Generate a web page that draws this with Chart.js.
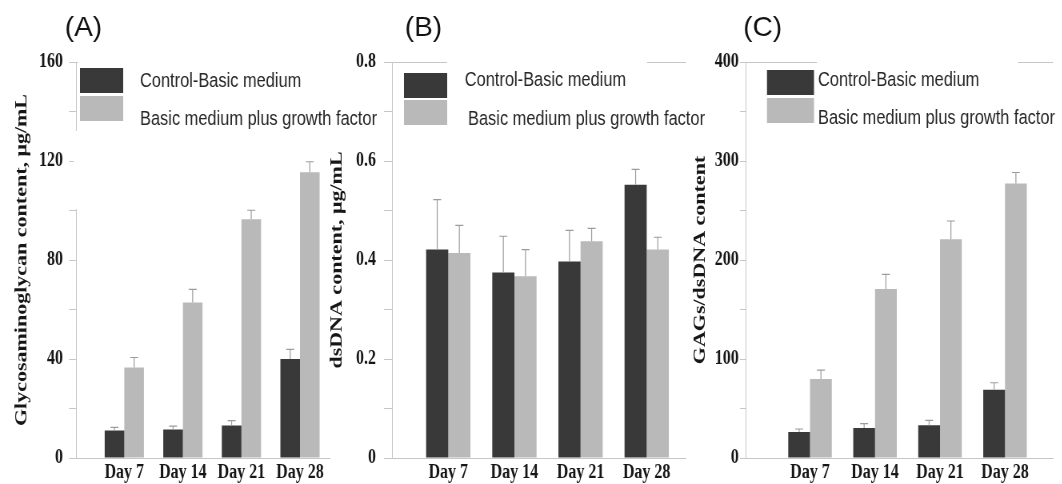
<!DOCTYPE html>
<html>
<head>
<meta charset="utf-8">
<script src="https://cdn.jsdelivr.net/npm/chart.js@4.4.1/dist/chart.umd.min.js"></script>
<style>
html,body{margin:0;padding:0;background:#fff;width:1062px;height:484px;overflow:hidden;position:relative;}
canvas{position:absolute;top:0;transform-origin:0 0;}
</style>
</head>
<body>
<canvas id="cA" width="500" height="484" style="left:0px"></canvas>
<canvas id="cB" width="538" height="484" style="left:320px"></canvas>
<canvas id="cC" width="478" height="484" style="left:680px"></canvas>
<script>
// ---------- data ----------
const days = ['Day 7', 'Day 14', 'Day 21', 'Day 28'];
const seriesNames = ['Control-Basic medium', 'Basic medium plus growth factor'];
const panelLabels = ['(A)', '(B)', '(C)'];
const axisTitles = ['Glycosaminoglycan content, μg/mL', 'dsDNA content, μg/mL', 'GAGs/dsDNA content'];

const gagControl    = [11.1, 11.5, 13.1, 40.0];
const gagControlErr = [1.3, 1.4, 2.0, 3.9];
const gagGrowth     = [36.6, 62.8, 96.5, 115.5];
const gagGrowthErr  = [4.0, 5.3, 3.6, 4.2];

const dnaControl    = [0.421, 0.375, 0.397, 0.552];
const dnaControlErr = [0.101, 0.073, 0.063, 0.031];
const dnaGrowth     = [0.414, 0.367, 0.438, 0.421];
const dnaGrowthErr  = [0.056, 0.054, 0.026, 0.025];

const ratioControl    = [26.2, 30.3, 33.0, 69.0];
const ratioControlErr = [3.1, 4.4, 5.0, 7.0];
const ratioGrowth     = [79.8, 170.6, 221.0, 277.2];
const ratioGrowthErr  = [9.0, 14.8, 18.4, 11.2];

const yTicksA = [0, 40, 80, 120, 160];
const yTicksB = [0, 0.2, 0.4, 0.6, 0.8];
const yTicksC = [0, 100, 200, 300, 400];

// ---------- styling ----------
const K = 0.8; // horizontal squeeze of the original figure
const DARK = '#393939', LIGHT = '#b9b9b9', AXIS = '#c6c6c6', ERR = '#9c9c9c', TXT = '#161616';
const serif = 'Liberation Serif', sans = 'Liberation Sans';

document.querySelectorAll('canvas').forEach(c => c.style.transform = 'scaleX(' + K + ')');

const decor = {
  id: 'decor',
  afterDatasetsDraw(chart) {
    const ctx = chart.ctx, ys = chart.scales.y;
    ctx.save();
    ctx.strokeStyle = ERR; ctx.lineWidth = 1.2;
    chart.data.datasets.forEach((ds, i) => {
      const meta = chart.getDatasetMeta(i);
      meta.data.forEach((bar, j) => {
        const v = ds.data[j].y, e = ds.errors[j];
        const y0 = ys.getPixelForValue(v), y1 = ys.getPixelForValue(v + e);
        ctx.beginPath();
        ctx.moveTo(bar.x, y0); ctx.lineTo(bar.x, y1);
        ctx.moveTo(bar.x - 5, y1); ctx.lineTo(bar.x + 5, y1);
        ctx.stroke();
      });
    });
    ctx.restore();
  },
  afterDraw(chart, args, o) {
    const ctx = chart.ctx, ca = chart.chartArea;
    ctx.save();
    // top frame line
    ctx.strokeStyle = AXIS; ctx.lineWidth = 1;
    ctx.beginPath(); ctx.moveTo(ca.left, ca.top + 0.5); ctx.lineTo(ca.right, ca.top + 0.5); ctx.stroke();
    // white masks
    ctx.fillStyle = '#fff';
    o.masks.forEach(m => ctx.fillRect(m[0], m[1], m[2] - m[0], m[3] - m[1]));
    // legend
    const L = o.legend;
    chart.data.datasets.forEach((ds, i) => {
      ctx.fillStyle = ds.backgroundColor;
      ctx.fillRect(L.boxX, L.boxY[i], L.boxW, L.boxH);
      ctx.fillStyle = '#262626';
      ctx.font = '20.5px "' + sans + '"';
      ctx.textBaseline = 'alphabetic'; ctx.textAlign = 'left';
      ctx.fillText(ds.label, L.textX[i], L.textY[i]);
    });
    // panel label (not squeezed)
    ctx.translate(o.labelX, o.labelY);
    ctx.scale(1 / K, 1);
    ctx.fillStyle = '#111';
    ctx.font = '28px "' + sans + '"';
    ctx.fillText(o.label, 0, 0);
    ctx.restore();
  }
};

function makePanel(id, ctrl, ctrlErr, grow, growErr, yTicks, title, lay) {
  const pts = arr => arr.map((v, i) => ({ x: i + 1, y: v }));
  const step = (yTicks[1] - yTicks[0]) / 2;
  const isMajor = v => yTicks.some(t => Math.abs(t - v) < step * 1e-3);
  return new Chart(document.getElementById(id), {
    type: 'bar',
    data: {
      datasets: [
        { label: seriesNames[0], data: pts(ctrl), errors: ctrlErr, backgroundColor: DARK, borderWidth: 0 },
        { label: seriesNames[1], data: pts(grow), errors: growErr, backgroundColor: LIGHT, borderWidth: 0 }
      ]
    },
    options: {
      responsive: false, animation: false, devicePixelRatio: 1,
      categoryPercentage: 0.67, barPercentage: 1,
      layout: { padding: { left: 0, top: 62, right: lay.padRight, bottom: 0 } },
      plugins: {
        legend: { display: false }, tooltip: { enabled: false },
        decor: lay.decor
      },
      scales: {
        x: {
          type: 'linear', min: lay.xMin, max: lay.xMax, offset: false,
          afterBuildTicks: s => { s.ticks = days.map((d, i) => ({ value: i + 1 })); },
          afterFit: s => { s.height = 26; },
          ticks: {
            callback: v => days[Math.round(v) - 1] || '',
            autoSkip: false, maxRotation: 0, padding: 3,
            font: { family: serif, weight: 'bold', size: 20 }, color: TXT
          },
          grid: { display: true, drawOnChartArea: false, drawTicks: false, offset: false },
          border: { display: true, color: AXIS, width: 1 }
        },
        y: {
          min: yTicks[0], max: yTicks[yTicks.length - 1],
          afterFit: s => { s.width = lay.yWidth; },
          ticks: {
            stepSize: step,
            callback: v => isMajor(v) ? String(parseFloat(v.toFixed(3))) : '',
            padding: lay.tickPad,
            font: { family: serif, weight: 'bold', size: 20 }, color: TXT
          },
          grid: { display: true, drawOnChartArea: false, drawTicks: true, tickLength: lay.tickLen, color: AXIS, tickColor: AXIS },
          border: { display: true, color: AXIS, width: 1 },
          title: {
            display: true, text: title, color: TXT,
            font: { family: serif, weight: 'bold', size: 22 },
            padding: { top: lay.titlePad, bottom: 0 }
          }
        }
      }
    },
    plugins: [decor]
  });
}

makePanel('cA', gagControl, gagControlErr, gagGrowth, gagGrowthErr, yTicksA, axisTitles[0], {
  padRight: 87.5, yWidth: 95, xMin: 0.175, xMax: 4.512, tickLen: 8.75, tickPad: 7.5, titlePad: 14.3,
  decor: {
    label: panelLabels[0], labelX: 81, labelY: 36,
    masks: [[97.5, 55, 420, 130], [92, 131, 99, 209]],
    legend: { boxX: 100, boxW: 54, boxH: 25, boxY: [68, 96], textX: [175, 175], textY: [87, 124.5] }
  }
});
makePanel('cB', dnaControl, dnaControlErr, dnaGrowth, dnaGrowthErr, yTicksB, axisTitles[1], {
  padRight: 80.5, yWidth: 90, xMin: 0.149, xMax: 4.594, tickLen: 10, tickPad: 10, titlePad: 8,
  decor: {
    label: panelLabels[1], labelX: 106, labelY: 36,
    masks: [[158.75, 55, 408.75, 130]],
    legend: { boxX: 105, boxW: 54, boxH: 25, boxY: [73, 100], textX: [181, 185], textY: [86, 125] }
  }
});
makePanel('cC', ratioControl, ratioControlErr, ratioGrowth, ratioGrowthErr, yTicksC, axisTitles[2], {
  padRight: 11.75, yWidth: 82.5, xMin: 0.015, xMax: 4.738, tickLen: 7.5, tickPad: 1.5, titlePad: 11.8,
  decor: {
    label: panelLabels[2], labelX: 79, labelY: 36,
    masks: [[171.25, 55, 422.5, 130]],
    legend: { boxX: 108.75, boxW: 58.75, boxH: 25, boxY: [70, 98], textX: [172.5, 172.5], textY: [86, 124] }
  }
});
</script>
</body>
</html>
